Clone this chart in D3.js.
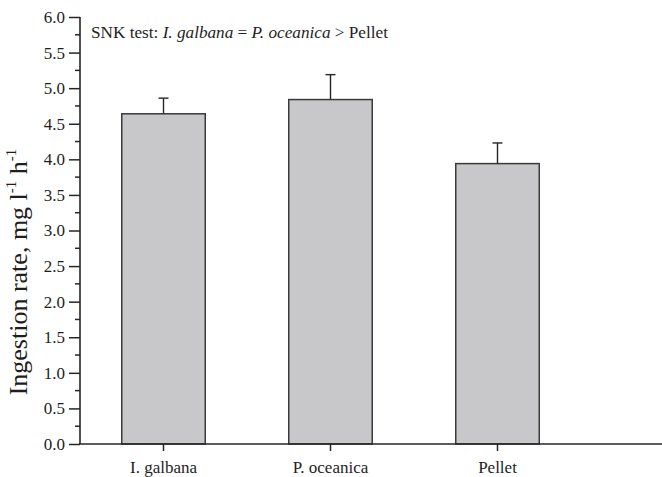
<!DOCTYPE html>
<html>
<head>
<meta charset="utf-8">
<script src="https://cdn.jsdelivr.net/npm/d3@7"></script>
<style>
  html, body { margin: 0; padding: 0; background: #fff; }
</style>
</head>
<body>
<svg id="chart" width="662" height="477"></svg>
<script>
// Ingestion rate per diet (mean and standard error)
const categories = ["I. galbana", "P. oceanica", "Pellet"];
const means = [4.64, 4.84, 3.94];
const errors = [0.22, 0.35, 0.29];
const yTicks = [0.0, 0.5, 1.0, 1.5, 2.0, 2.5, 3.0, 3.5, 4.0, 4.5, 5.0, 5.5, 6.0];

const serif = "'Liberation Serif'";
const svg = d3.select("#chart");
const plotLeft = 80, plotRight = 662, plotTop = 17, plotBottom = 444;
const slot = 167;

const x = d3.scaleBand()
  .domain(categories)
  .range([plotLeft, plotLeft + slot * categories.length])
  .paddingInner(0.5)
  .paddingOuter(0.25);

const y = d3.scaleLinear().domain([0, 6]).range([plotBottom, plotTop]);

const ink = "#262626";
const textInk = "#1e1e1e";

// bars
svg.append("g").selectAll("rect")
  .data(categories)
  .join("rect")
  .attr("x", d => x(d))
  .attr("width", x.bandwidth())
  .attr("y", (d, i) => y(means[i]))
  .attr("height", (d, i) => y(0) - y(means[i]))
  .attr("fill", "#c8c8ca")
  .attr("stroke", "#3a3a3a")
  .attr("stroke-width", 1.5);

// error bars (upper only)
const eb = svg.append("g").attr("stroke", ink).attr("stroke-width", 1.4);
categories.forEach((c, i) => {
  const cx = x(c) + x.bandwidth() / 2;
  eb.append("line").attr("x1", cx).attr("x2", cx)
    .attr("y1", y(means[i])).attr("y2", y(means[i] + errors[i]));
  eb.append("line").attr("x1", cx - 5).attr("x2", cx + 5)
    .attr("y1", y(means[i] + errors[i])).attr("y2", y(means[i] + errors[i]));
});

// y axis with major and minor ticks
const yAxis = d3.axisLeft(y)
  .tickValues(yTicks)
  .tickFormat(d3.format(".1f"))
  .tickSize(11)
  .tickPadding(4);
const gy = svg.append("g").attr("transform", `translate(${plotLeft},0)`).call(yAxis);
gy.select(".domain").remove();
gy.selectAll(".tick line").attr("stroke", ink).attr("stroke-width", 1.5);
gy.selectAll(".tick text")
  .style("font-family", serif).style("font-size", "17px")
  .attr("fill", textInk);

const minor = d3.range(0, 12).map(k => 0.25 + k * 0.5);
svg.append("g").selectAll("line")
  .data(minor)
  .join("line")
  .attr("x1", plotLeft - 5).attr("x2", plotLeft)
  .attr("y1", d => y(d)).attr("y2", d => y(d))
  .attr("stroke", ink).attr("stroke-width", 1.5);

svg.append("line")
  .attr("x1", plotLeft).attr("x2", plotLeft)
  .attr("y1", y(6)).attr("y2", y(0))
  .attr("stroke", ink).attr("stroke-width", 1.6);

// x axis
const xAxis = d3.axisBottom(x).tickSize(7).tickPadding(10);
const gx = svg.append("g").attr("transform", `translate(0,${plotBottom})`).call(xAxis);
gx.select(".domain").remove();
gx.selectAll(".tick line").attr("stroke", ink).attr("stroke-width", 1.5);
gx.selectAll(".tick text")
  .style("font-family", serif).style("font-size", "17px")
  .attr("fill", textInk);

svg.append("line")
  .attr("x1", plotLeft - 1).attr("x2", plotRight)
  .attr("y1", plotBottom).attr("y2", plotBottom)
  .attr("stroke", ink).attr("stroke-width", 1.6);

// y axis title
const yt = svg.append("text")
  .attr("transform", "translate(27,272) rotate(-90)")
  .attr("text-anchor", "middle")
  .attr("fill", textInk)
  .style("font-family", serif).style("font-size", "26px");
yt.append("tspan").text("Ingestion rate, mg l");
yt.append("tspan").attr("dy", -11).style("font-size", "15px").text("-1");
yt.append("tspan").attr("dy", 11).text(" h");
yt.append("tspan").attr("dy", -11).style("font-size", "15px").text("-1");

// significance note
const note = svg.append("text").attr("x", 91).attr("y", 37.5)
  .attr("fill", textInk)
  .style("font-family", serif).style("font-size", "17.2px");
note.append("tspan").text("SNK test: ");
note.append("tspan").style("font-style", "italic").text("I. galbana");
note.append("tspan").text(" = ");
note.append("tspan").style("font-style", "italic").text("P. oceanica");
note.append("tspan").text(" > Pellet");
</script>
</body>
</html>
